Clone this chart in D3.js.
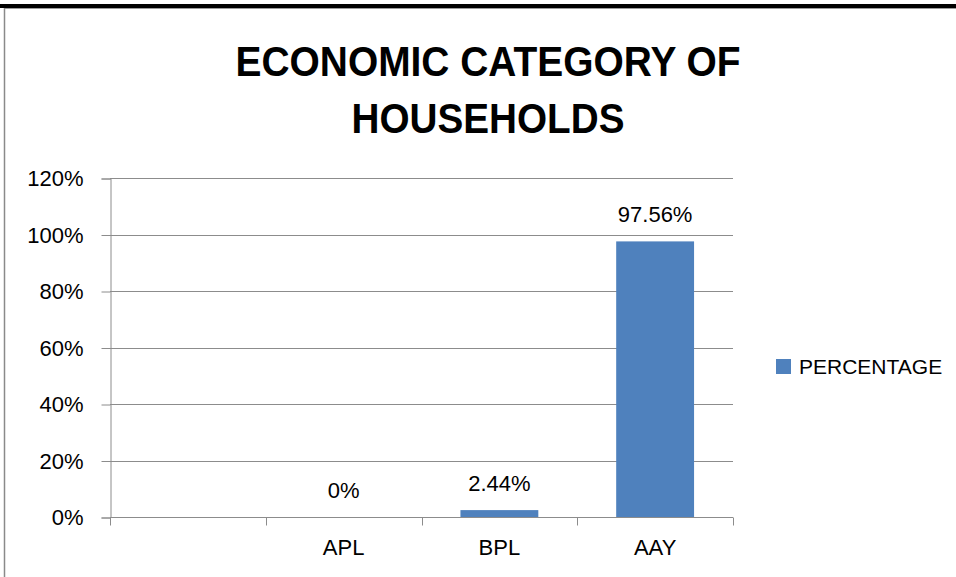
<!DOCTYPE html>
<html>
<head>
<meta charset="utf-8">
<script src="https://cdn.jsdelivr.net/npm/d3@7"></script>
<style>
  body { margin: 0; background: #fff; }
  svg { display: block; font-family: "Liberation Sans", Arial, sans-serif; }
</style>
</head>
<body>
<svg id="chart"></svg>
<script>
const categories = ["", "APL", "BPL", "AAY"];
const percentages = [null, 0, 2.44, 97.56];
const labels = ["", "0%", "2.44%", "97.56%"];
const yTicks = [0, 20, 40, 60, 80, 100, 120];
const seriesName = "PERCENTAGE";
const titleLines = ["ECONOMIC CATEGORY OF", "HOUSEHOLDS"];

const width = 956, height = 577;
const margin = { top: 178, bottom: 60, left: 110, right: 223 };

const svg = d3.select("#chart")
    .attr("width", width)
    .attr("height", height);

// page frame (black rule on top, grey border left)
svg.append("rect").attr("x", 0).attr("y", 4).attr("width", width).attr("height", 4).attr("fill", "#000");
svg.append("line").attr("x1", 4).attr("x2", width).attr("y1", 8.5).attr("y2", 8.5)
    .attr("stroke", "#9a9a9a").attr("stroke-width", 1);
svg.append("line").attr("x1", 4.5).attr("x2", 4.5).attr("y1", 8).attr("y2", height)
    .attr("stroke", "#8a8a8a").attr("stroke-width", 1.5);

const xScale = d3.scaleBand()
    .domain(categories)
    .range([margin.left, width - margin.right])
    .paddingInner(0.5)
    .paddingOuter(0.25);

const yScale = d3.scaleLinear()
    .domain([0, 120])
    .range([height - margin.bottom, margin.top]);

// gridlines
svg.append("g")
    .selectAll("line")
    .data(yTicks.filter(d => d > 0))
    .enter().append("line")
    .attr("x1", margin.left)
    .attr("x2", width - margin.right)
    .attr("y1", d => Math.round(yScale(d)) + 0.5)
    .attr("y2", d => Math.round(yScale(d)) + 0.5)
    .attr("stroke", "#8c8c8c");

// Y axis
const yAxis = svg.append("g")
    .attr("transform", `translate(${margin.left + 0.5},0.5)`)
    .call(d3.axisLeft(yScale).tickValues(yTicks).tickSize(9).tickPadding(18).tickFormat(d => d + "%"));
yAxis.selectAll("line, path").attr("stroke", "#8c8c8c");
yAxis.selectAll("text").attr("font-size", 22).attr("fill", "#000")
    .attr("font-family", "'Liberation Sans', Arial, sans-serif");

// X axis, ticks sit between categories
const xBase = Math.round(yScale(0)) + 0.5;
const step = xScale.step();
const bounds = d3.range(categories.length + 1).map(i => margin.left + i * step);
svg.append("line")
    .attr("x1", margin.left).attr("x2", width - margin.right)
    .attr("y1", xBase).attr("y2", xBase)
    .attr("stroke", "#8c8c8c");
svg.append("g").selectAll("line")
    .data(bounds)
    .enter().append("line")
    .attr("x1", d => Math.round(d) + 0.5).attr("x2", d => Math.round(d) + 0.5)
    .attr("y1", xBase).attr("y2", xBase + 8)
    .attr("stroke", "#8c8c8c");
svg.append("g").selectAll("text")
    .data(categories)
    .enter().append("text")
    .attr("x", d => xScale(d) + xScale.bandwidth() / 2)
    .attr("y", 555)
    .attr("text-anchor", "middle")
    .attr("font-size", 22)
    .text(d => d);

// bars
const rows = categories.map((c, i) => ({ cat: c, value: percentages[i], label: labels[i] }))
    .filter(d => d.value !== null);

svg.append("g").selectAll("rect")
    .data(rows)
    .enter().append("rect")
    .attr("x", d => xScale(d.cat))
    .attr("y", d => yScale(d.value))
    .attr("width", xScale.bandwidth())
    .attr("height", d => yScale(0) - yScale(d.value))
    .attr("fill", "#4f81bd");

// value labels
svg.append("g").selectAll("text")
    .data(rows)
    .enter().append("text")
    .attr("x", d => xScale(d.cat) + xScale.bandwidth() / 2)
    .attr("y", d => yScale(d.value) - 19)
    .attr("text-anchor", "middle")
    .attr("font-size", 22)
    .text(d => d.label);

// title (narrow bold face approximated by squeezing Liberation Sans Bold)
const titleWidths = [505, 273];
const titleBase = [76, 133];
svg.append("g").selectAll("text")
    .data(titleLines)
    .enter().append("text")
    .attr("x", (d, i) => 488 - titleWidths[i] / 2)
    .attr("y", (d, i) => titleBase[i])
    .attr("font-size", 42)
    .attr("font-weight", "bold")
    .attr("textLength", (d, i) => titleWidths[i])
    .attr("lengthAdjust", "spacingAndGlyphs")
    .text(d => d);

// legend
const legend = svg.append("g").attr("transform", "translate(776,359)");
legend.append("rect").attr("width", 15).attr("height", 15).attr("fill", "#4f81bd");
legend.append("text").attr("x", 23).attr("y", 15).attr("font-size", 21).text(seriesName);
</script>
</body>
</html>
